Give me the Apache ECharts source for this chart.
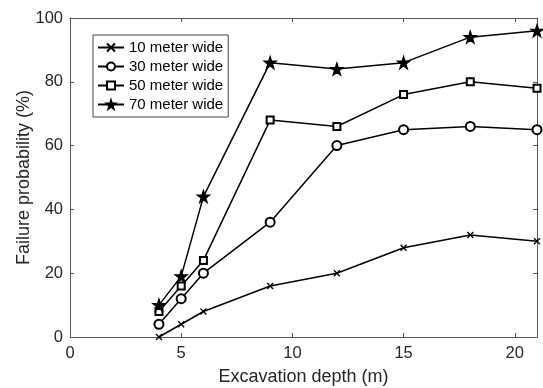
<!DOCTYPE html>
<html>
<head>
<meta charset="utf-8">
<script src="https://cdn.jsdelivr.net/npm/echarts@6/dist/echarts.min.js"></script>
<style>
  html, body { margin: 0; padding: 0; background: #fff; }
  #chart { width: 543px; height: 388px; }
</style>
</head>
<body>
<div id="chart"></div>
<script>
// excavation depths (m)
const depths = [4, 5, 6, 9, 12, 15, 18, 21];
const names = ['10 meter wide', '30 meter wide', '50 meter wide', '70 meter wide'];
const wide10 = [0, 4, 8, 16, 20, 28, 32, 30];
const wide30 = [4, 12, 20, 36, 60, 65, 66, 65];
const wide50 = [8, 16, 24, 68, 66, 76, 80, 78];
const wide70 = [10, 19, 44, 86, 84, 86, 94, 96];

const crossPath = 'path://M0,0L10,10M10,0L0,10';
const starPath = 'path://M50,0L61.8,35.1L98.1,35.1L68.8,56.7L79.9,91.6L50,70.1L20.1,91.6L31.2,56.7L1.9,35.1L38.2,35.1Z';

const ink = '#262626';
const axisCol = '#555';

const pairs = (ys) => depths.map((d, i) => [d, ys[i]]);

const mk = (name, ys, symbol, size) => ({
  name: name,
  type: 'line',
  data: pairs(ys),
  symbol: symbol,
  symbolSize: size,
  showSymbol: true,
  lineStyle: { color: '#000', width: 1.5 },
  itemStyle: { color: '#000', borderColor: '#000', borderWidth: 1.3 },
  emphasis: { disabled: true },
  z: 3
});

const chart = echarts.init(document.getElementById('chart'));
chart.setOption({
  animation: false,
  textStyle: { fontFamily: 'Liberation Sans, Arial, sans-serif' },
  grid: { left: 70, right: 6, top: 18, bottom: 51, outerBoundsMode: 'none', containLabel: false },
  legend: {
    orient: 'vertical',
    left: 93,
    top: 35,
    padding: [5, 5, 5, 4],
    itemGap: 4,
    itemWidth: 26,
    itemHeight: 10,
    backgroundColor: '#fff',
    borderColor: '#444',
    borderWidth: 1,
    borderRadius: 0,
    textStyle: { color: '#000', fontSize: 15 },
    data: names
  },
  xAxis: [{
    type: 'value',
    min: 0, max: 21, interval: 5,
    name: 'Excavation depth (m)',
    nameLocation: 'middle',
    nameGap: 31,
    nameTextStyle: { color: ink, fontSize: 18 },
    axisLine: { show: true, onZero: false, lineStyle: { color: axisCol } },
    axisTick: { show: true, inside: true, length: 4, lineStyle: { color: axisCol } },
    axisLabel: { color: ink, fontSize: 16.5, margin: 8, showMaxLabel: false },
    splitLine: { show: false }
  }, {
    type: 'value',
    position: 'top',
    min: 0, max: 21, interval: 5,
    axisLine: { show: true, onZero: false, lineStyle: { color: axisCol } },
    axisTick: { show: true, inside: true, length: 4, lineStyle: { color: axisCol } },
    axisLabel: { show: false },
    splitLine: { show: false }
  }],
  yAxis: [{
    type: 'value',
    min: 0, max: 100, interval: 20,
    name: 'Failure probability (%)',
    nameLocation: 'middle',
    nameMoveOverlap: false,
    nameGap: 37,
    nameTextStyle: { color: ink, fontSize: 18 },
    axisLine: { show: true, onZero: false, lineStyle: { color: axisCol } },
    axisTick: { show: true, inside: true, length: 4, lineStyle: { color: axisCol } },
    axisLabel: { color: ink, fontSize: 16.5, margin: 7 },
    splitLine: { show: false }
  }, {
    type: 'value',
    position: 'right',
    min: 0, max: 100, interval: 20,
    axisLine: { show: true, onZero: false, lineStyle: { color: axisCol } },
    axisTick: { show: true, inside: true, length: 4, lineStyle: { color: axisCol } },
    axisLabel: { show: false },
    splitLine: { show: false }
  }],
  series: [
    mk(names[0], wide10, crossPath, 6),
    mk(names[1], wide30, 'emptyCircle', 9),
    mk(names[2], wide50, 'emptyRect', 7),
    mk(names[3], wide70, starPath, 12)
  ]
});
</script>
</body>
</html>
